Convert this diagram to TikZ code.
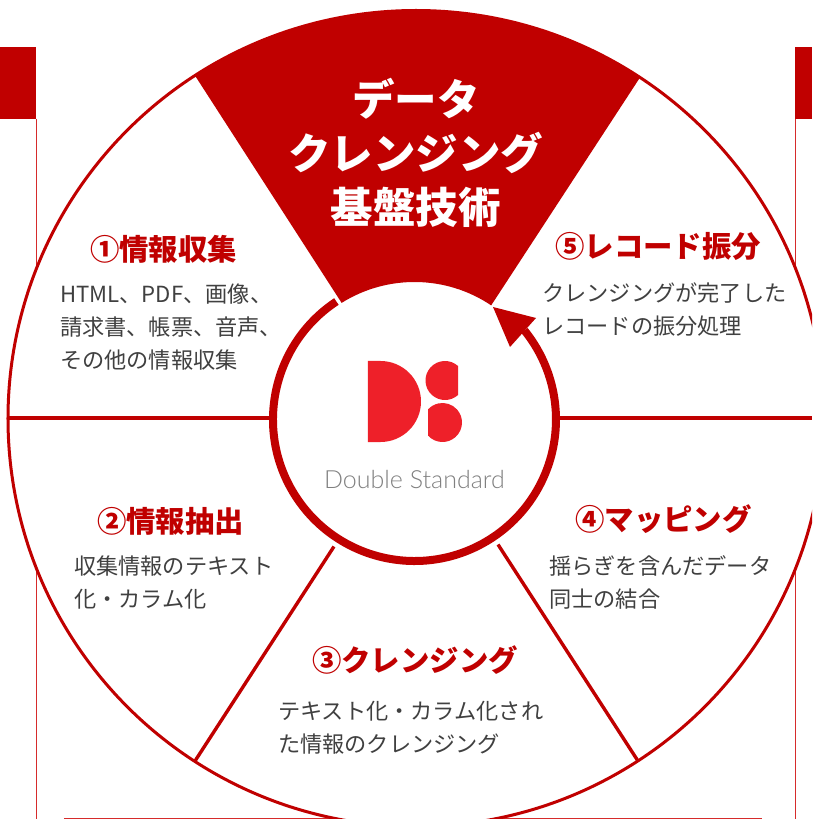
\documentclass[tikz,border=0pt]{standalone}
\usepackage{fontspec}
\setmainfont{Noto Sans CJK JP}
\newfontfamily\logofont{Lato Light}
\definecolor{dsred}{HTML}{C00000}
\definecolor{dslogo}{HTML}{EE2029}
\definecolor{dstext}{HTML}{404040}
\definecolor{dsframe}{HTML}{D62B2B}

\begin{document}
\begin{tikzpicture}[x = 1pt, y = 1pt,
    titletext/.style = { align = center, text = white, font = \fontsize{42.5}{54}\selectfont\bfseries },
    headtext/.style = { anchor = west, inner sep = 0, text = dsred, font = \fontsize{29.4}{34}\selectfont\bfseries },
    bodytext/.style = { anchor = west, inner sep = 0, align = left, text = dstext, font = \fontsize{22.2}{33}\selectfont },
    spoke/.style = { draw = dsred, line width = 3.4pt },
    frameline/.style = { draw = dsframe, line width = 1.3pt }]
    \useasboundingbox (-414.5,-399.5) rectangle (397.5,419.5);
    \clip (-414.5,-399.5) rectangle (397.5,419.5);

    \fill [dsred] (-414.5,372.5) rectangle (-378.5,300.5);
    \fill [dsred] (380.5,372.5) rectangle (397.5,300.5);
    \coordinate (frameLT) at (-378,300.5);
    \coordinate (frameLB) at (-378,-399.5);
    \coordinate (frameRT) at (381,300.5);
    \coordinate (frameRB) at (381,-399.5);
    \coordinate (frameBL) at (-350.5,-398.7);
    \coordinate (frameBR) at (347.5,-398.7);
    \draw [frameline] (frameLT) -- (frameLB);
    \draw [frameline] (frameRT) -- (frameRB);
    \draw [frameline] (frameBL) -- (frameBR);

    \coordinate (outerC) at (1.5,1);
    \fill [white] (outerC) circle (408);
    \draw [dsred, line width = 3pt] (outerC) circle (408);

    \fill [dsred] ([shift = {(outerC)}]122.8:408) arc (122.8:56.7:408)
      -- (56.1:137.5) arc (56.1:122:137.5) -- cycle;

    \coordinate (spokeLa) at (-145,1.5);
    \coordinate (spokeLb) at (-406.5,1.5);
    \coordinate (spokeRa) at (145,1.5);
    \coordinate (spokeRb) at (397.5,1.5);
    \coordinate (spokeDLa) at (-80.5,-127);
    \coordinate (spokeDLb) at (-219.5,-341.5);
    \coordinate (spokeDRa) at (83.5,-125);
    \coordinate (spokeDRb) at (223.5,-341.5);
    \draw [spoke] (spokeLa) -- (spokeLb);
    \draw [spoke] (spokeRa) -- (spokeRb);
    \draw [spoke] (spokeDLa) -- (spokeDLb);
    \draw [spoke] (spokeDRa) -- (spokeDRb);

    \draw [dsred, line width = 8pt] (123.5:141.5) arc (123.5:399:141.5);
    \coordinate (tipA) at (78.5,112.5);
    \coordinate (tipB) at (121.5,101.5);
    \coordinate (tipC) at (95.5,72.5);
    \fill [dsred] (tipA) -- (tipB) -- (tipC) -- cycle;

    \fill [dslogo] (-46.5,58.5) -- (-34,58.5) arc (90:-90:40.5) -- (-46.5,-22.5) -- cycle;
    \fill [dslogo] ([shift = {(30.5,39)}]48:19.5) arc (48:312:19.5) -- cycle;
    \fill [dslogo] ([shift = {(28,-3)}]-138:19.5) arc (-138:138:19.5) -- cycle;
    \node (logoname) [inner sep = 0, text = gray, font = \fontsize{25}{28}\selectfont\logofont] at (0,-60.5) { Double Standard };

    \node (title) [titletext] at (1.5,266.5) { データ \\ クレンジング \\ 基盤技術 };

    \node (headA) [headtext] at (-324.5,170.5) { ①情報収集 };
    \node (bodyA) [bodytext] at (-354.5,92.5) { HTML、PDF、画像、 \\ 請求書、帳票、音声、 \\ その他の情報収集 };

    \node (headB) [headtext] at (-317.5,-101.5) { ②情報抽出 };
    \node (bodyB) [bodytext] at (-340.5,-163) { 収集情報のテキスト \\ 化・カラム化 };

    \node (headC) [headtext] at (-102.5,-241) { ③クレンジング };
    \node (bodyC) [bodytext] at (-136.5,-308.5) { テキスト化・カラム化され \\ た情報のクレンジング };

    \node (headD) [headtext] at (160.5,-100) { ④マッピング };
    \node (bodyD) [bodytext] at (134.5,-163) { 揺らぎを含んだデータ \\ 同士の結合 };

    \node (headE) [headtext] at (140.5,173.5) { ⑤レコード振分 };
    \node (bodyE) [bodytext] at (127.5,110) { クレンジングが完了した \\ レコードの振分処理 };
\end{tikzpicture}
\end{document}
